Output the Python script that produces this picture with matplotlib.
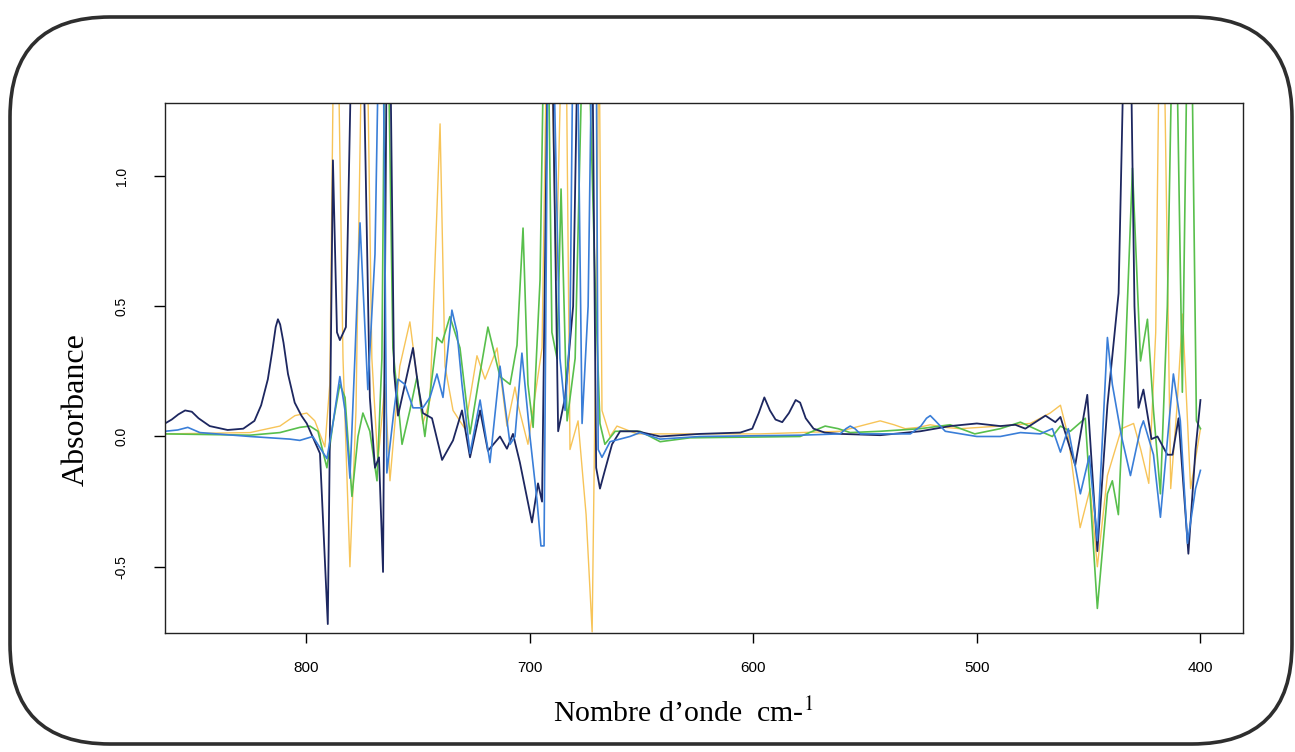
import matplotlib
matplotlib.use("Agg")
import matplotlib.pyplot as plt
from matplotlib.patches import FancyBboxPatch

# --- Spectra (wavenumber cm-1, absorbance) ---
# values above the frame (1.28) are clipped spikes
navy_x = [863, 860, 857, 854, 851, 848, 843, 835, 828, 823, 820, 817, 815, 813.5, 812.5,
          811.5, 810, 808, 805, 802, 799.6,
          793.7, 790.2, 787.9, 786.1, 784.8, 782.1, 779.4, 776.7, 774.5, 771.4, 769.1, 767.3,
          765.5, 763.8, 762.4, 760.6, 758.8, 755.7, 752.1, 749.9, 747.7, 743.6, 739.1, 734.2,
          730.2, 726.6, 722.1, 718.6, 713.2, 710.1, 707.4, 704.3, 698.9, 696.2, 694.4, 691.7,
          690, 687.2, 684.1, 680.5, 678.3, 672, 670.2, 668.5, 666.3, 663.1, 659.5, 651.9,
          641.6, 623.7, 605.8, 600.4, 597.5, 595, 592.5, 590, 587, 584, 581, 579, 576.5, 573,
          568, 561.1, 543.2, 525.3, 511.9,
          500, 489.5, 482.8, 478.3, 469.3, 464.9, 462.6, 456, 450.6, 446.1, 441.6, 436.6,
          434, 431.3, 429.5, 427.7, 425.5, 421.9, 419.2, 414.8, 412.5, 409.8, 405.4, 402.2, 400]
navy_y = [0.05, 0.065, 0.085, 0.10, 0.095, 0.07, 0.04, 0.025, 0.03, 0.06, 0.12, 0.22, 0.33, 0.42, 0.45,
          0.43, 0.36, 0.24, 0.13, 0.08, 0.05,
          -0.065, -0.72, 1.06, 0.40, 0.37, 0.42, 1.6, 1.6, 1.6, 0.15, -0.12, -0.08,
          -0.52, 1.6, 1.6, 0.25, 0.08, 0.20, 0.34, 0.20, 0.09, 0.07, -0.09, -0.015,
          0.10, -0.08, 0.10, -0.055, 0.0, -0.047, 0.01, -0.10, -0.33, -0.18, -0.25, 1.6,
          1.6, 0.02, 0.15, 0.50, 1.6, 1.6, -0.12, -0.20, -0.13, -0.03, 0.02, 0.02,
          0.0, 0.01, 0.015, 0.03, 0.09, 0.15, 0.10, 0.065, 0.055, 0.09, 0.14, 0.13, 0.07, 0.03,
          0.015, 0.01, 0.005, 0.02, 0.04,
          0.05, 0.04, 0.045, 0.03, 0.08, 0.055, 0.075, -0.11, 0.16, -0.44, 0.12, 0.55,
          1.6, 1.6, 0.50, 0.11, 0.18, -0.01, 0.0, -0.07, -0.07, 0.07, -0.45, -0.05, 0.14]

orange_x = [863, 825, 811.6, 804.9, 799.6, 796, 791.5, 789.3, 787.5, 785.7, 783.4, 780.3,
            777.6, 774.9, 772.7, 770.5, 767.8, 764.7, 762.4, 758, 753.5, 747.7, 744.5, 740,
            737.8, 734.2, 728.9, 723.5, 719.9, 714.5, 710.1, 706.5, 705.1, 700.7, 694.4, 692.2,
            690.4, 688.1, 685.5, 683.7, 681.9, 678.3, 674.7, 672, 670.2, 668.9, 667.6, 664,
            660.9, 651.9, 623.7, 596.9, 561.1, 550, 543.2, 537, 532, 526, 520.8, 514, 507.6,
            489.5, 476.1, 467.2,
            462.6, 459.1, 453.8, 449.3, 446.1, 441.6, 435.3, 429.9, 426.7, 423.1, 420, 418.3,
            416.4, 413.3, 410.6, 408, 404.4, 400]
orange_y = [0.01, 0.015, 0.04, 0.08, 0.09, 0.06, -0.04, 0.20, 1.6, 1.6, 0.30, -0.50,
            0.10, 1.6, 1.6, 0.30, -0.10, 0.20, -0.17, 0.27, 0.44, 0.05, 0.14, 1.20,
            0.27, 0.10, 0.03, 0.31, 0.22, 0.34, 0.04, 0.19, 0.12, -0.03, 0.34, 1.6,
            1.6, 0.60, 1.6, 1.6, -0.05, 0.06, -0.30, -0.75, 0.50, 1.6, 0.10, 0.0,
            0.04, 0.01, 0.01, 0.01, 0.02, 0.045, 0.06, 0.045, 0.03, 0.035, 0.045, 0.035, 0.03,
            0.04, 0.05, 0.09,
            0.12, 0.0, -0.35, -0.20, -0.50, -0.15, 0.03, 0.05, -0.05, -0.18, 0.40, 1.6,
            1.6, -0.20, 0.10, 0.47, -0.20, 0.03]

green_x = [863, 825, 811.6, 802.7, 798.2, 794.6, 790.6, 787.9, 784.8, 782.5, 779.4, 776.7,
           774.5, 771.4, 768.2, 766, 764.7, 763.3, 761.1, 757, 753.5, 750.3, 746.8, 741.4,
           739.1, 735.6, 731.1, 726.6, 723, 718.6, 713.2, 708.7, 705.6, 702.9, 700.7, 698.4,
           695.3, 693.5, 691.7, 690, 687.7, 685.9, 683.2, 679.6, 676.1, 673.8, 670.7, 668.5,
           666.3, 661.7, 650.6, 641.6, 628.2, 579, 572, 567.8, 562, 556.6, 543.2, 525.3, 511.9,
           500.9, 489.5, 480.5, 471.6, 466.2, 462.6, 458.2, 451.5, 446.1, 441.6, 439.4, 436.7,
           433.6, 430.4, 426.8, 423.7, 421, 417.9, 414.8, 412.5, 410.8, 408.1, 405.8, 404,
           401.8, 400]
green_y = [0.01, 0.005, 0.015, 0.035, 0.04, 0.02, -0.12, 0.05, 0.20, 0.15, -0.23, 0.0,
           0.09, 0.02, -0.17, 0.30, 1.6, 1.6, 0.34, -0.03, 0.10, 0.23, 0.0, 0.38,
           0.36, 0.46, 0.34, 0.01, 0.20, 0.42, 0.23, 0.20, 0.35, 0.80, 0.20, 0.035,
           0.60, 1.6, 1.6, 0.40, 0.30, 0.95, 0.06, 0.30, 1.6, 1.6, 0.60, 0.05,
           -0.03, 0.02, 0.02, -0.02, -0.005, 0.0, 0.025, 0.04, 0.03, 0.015, 0.02, 0.03, 0.045,
           0.01, 0.03, 0.055, 0.02, 0.0, 0.04, 0.02, 0.07, -0.66, -0.22, -0.17, -0.30,
           0.30, 1.03, 0.29, 0.45, 0.10, -0.22, 0.50, 1.6, 1.6, 0.17, 1.6, 1.6,
           0.06, 0.03]

blue_x = [863, 857.3, 852.8, 847.4, 825, 807.2, 802.7, 796.9, 790.6, 787.9, 784.8, 782.5,
          780.3, 778.1, 775.8, 772.3, 769.1, 767.3, 765.5, 763.8, 760.6, 758.8, 755.7, 752.1,
          747.7, 744.5, 741.4, 738.7, 734.7, 732.4, 730.2, 726.6, 722.1, 717.7, 713.2, 708.7,
          706.5, 703.4, 699.8, 696.6, 694.9, 693.5, 691.7, 689.5, 686.4, 684.1, 681.9, 680.5,
          678.7, 676.5, 673.8, 672, 670.2, 669.3, 667.6, 664, 655.1, 650.6, 641.6, 623.7,
          579, 561.1, 558.5, 556.6, 554.5, 552.1, 529.7, 525, 522.5, 520.8, 518.5, 514.1,
          500, 489.5, 480.5, 471.6, 466.2,
          462.6, 459.1, 453.7, 449.7, 446.1, 441.6, 439.4, 435.3, 431.3, 426.8, 425.5, 421,
          417.9, 412.1, 409, 405.8, 402.2, 400]
blue_y = [0.02, 0.025, 0.035, 0.015, 0.0, -0.01, -0.015, 0.0, -0.085, 0.05, 0.23, 0.10,
          -0.16, 0.30, 0.82, 0.18, 0.70, 1.6, 1.6, -0.14, 0.10, 0.22, 0.20, 0.11,
          0.11, 0.15, 0.24, 0.15, 0.485, 0.40, 0.20, -0.065, 0.14, -0.10, 0.27, -0.03,
          0.0, 0.32, 0.0, -0.25, -0.42, -0.42, 1.6, 1.6, 0.30, 0.10, 0.40, 1.6,
          1.6, 0.05, 0.50, 1.6, 1.6, -0.05, -0.08, -0.02, 0.0, 0.015, -0.01, 0.0,
          0.005, 0.01, 0.03, 0.04, 0.03, 0.01, 0.01, 0.04, 0.07, 0.08, 0.06, 0.02,
          0.0, 0.0, 0.015, 0.01, 0.03,
          -0.06, 0.03, -0.22, -0.075, -0.40, 0.38, 0.20, 0.0, -0.15, 0.03, 0.06, -0.07,
          -0.31, 0.24, 0.06, -0.41, -0.20, -0.13]

x_ticks = [800, 700, 600, 500, 400]
y_ticks = [-0.5, 0.0, 0.5, 1.0]

# --- Figure ---
fig = plt.figure(figsize=(12.95, 7.52), dpi=100)
ax = fig.add_axes([0.1274, 0.158, 0.8324, 0.705])

ax.plot(orange_x, orange_y, color="#f7c458", lw=1.0)
ax.plot(green_x, green_y, color="#58bf4c", lw=1.2)
ax.plot(navy_x, navy_y, color="#1d2760", lw=1.3)
ax.plot(blue_x, blue_y, color="#3a7ed8", lw=1.2)

ax.set_xlim(863, 381)
ax.set_ylim(-0.755, 1.28)

ax.set_xticks(x_ticks)
ax.set_xticklabels([str(v) for v in x_ticks], fontsize=11, family="Liberation Sans")
ax.set_yticks(y_ticks)
ax.set_yticklabels([f"{v:.1f}" for v in y_ticks], fontsize=10, family="Liberation Sans",
                   rotation=90, va="center")
ax.tick_params(axis="x", direction="out", length=7, width=1, pad=13)
ax.tick_params(axis="y", direction="out", length=8, width=1, pad=18)
for sp in ax.spines.values():
    sp.set_linewidth(1.0)
    sp.set_color("#222222")

# axis titles placed as in the scan
fig.text(76 / 1295, 1 - 410 / 752, "Absorbance", rotation=90, ha="center", va="center",
         fontsize=23, family="Liberation Serif")
plt.rcParams["mathtext.fontset"] = "stix"
fig.text(683 / 1295, 1 - 713 / 752, "Nombre d\u2019onde  cm-$^{1}$", ha="center", va="center",
         fontsize=21.5, family="Liberation Serif")

# rounded frame of the scanned page
frame = FancyBboxPatch((0.10, 0.08), 12.82, 7.27,
                       boxstyle="round,pad=0,rounding_size=1.0",
                       transform=fig.dpi_scale_trans, fill=False,
                       edgecolor="#2e2e2e", linewidth=2.6)
fig.patches.append(frame)

fig.savefig("out.png", dpi=100)
